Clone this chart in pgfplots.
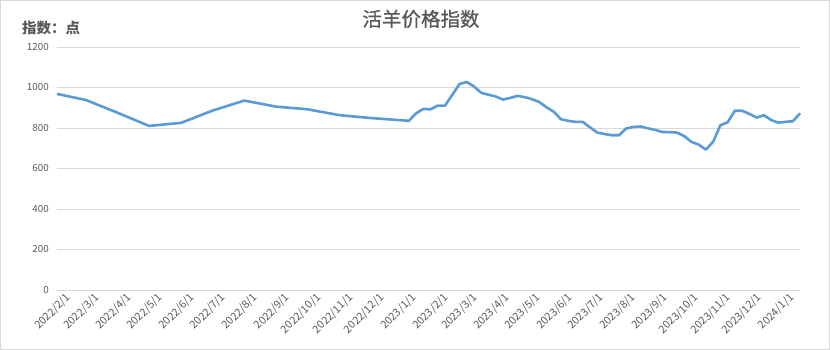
\documentclass[border=0pt]{standalone}
\usepackage{pgfplots}
\pgfplotsset{compat=1.18}
\usepackage{fontspec}
\setmainfont{Noto Sans CJK SC}
\newfontfamily\titlefont{Noto Sans CJK SC}[FakeBold=0.8]
\definecolor{linec}{RGB}{91,155,213}
\definecolor{txt}{RGB}{89,89,89}
\definecolor{grd}{RGB}{217,217,217}
\begin{document}
\begin{tikzpicture}[x=1pt,y=1pt]
\draw[grd, line width=0.8pt] (0.5,0.5) rectangle (829.5,349.5);
\node[text=txt, font=\titlefont\fontsize{19.5}{21}\selectfont] at (421,331) {活羊价格指数};
\node[text=txt, font=\fontsize{14.5}{16}\selectfont\bfseries, anchor=west, inner sep=0pt] at (22,322) {指数：点};
\begin{axis}[
  at={(57pt,60pt)}, anchor=south west,
  scale only axis, width=743pt, height=243pt,
  xmin=0, xmax=718, ymin=0, ymax=1200,
  ytick={0,200,...,1200},
  ymajorgrids,
  grid style={draw=grd, line width=0.8pt},
  axis line style={draw=none},
  tick style={draw=none},
  /pgf/number format/assume math mode=true,
  /pgf/number format/1000 sep={},
  yticklabel style={font=\fontsize{9.8}{10}\selectfont, text=txt, inner sep=0pt, anchor=east, xshift=-8pt},
  xtick={0,28,59,89,120,150,181,212,242,273,303,334,365,393,424,454,485,515,546,577,607,638,668,699},
  xticklabels={2022/2/1,2022/3/1,2022/4/1,2022/5/1,2022/6/1,2022/7/1,2022/8/1,2022/9/1,2022/10/1,2022/11/1,2022/12/1,2023/1/1,2023/2/1,2023/3/1,2023/4/1,2023/5/1,2023/6/1,2023/7/1,2023/8/1,2023/9/1,2023/10/1,2023/11/1,2023/12/1,2024/1/1},
  xticklabel style={font=\fontsize{10.8}{11}\selectfont, text=txt, inner sep=0pt, rotate=45, anchor=north east, xshift=4pt, yshift=-7pt},
  clip=false,
]
\addplot[color=linec, line width=2.6pt, line join=round, mark=none] coordinates {
(0,968) (28,938) (59,874) (89,810) (120,825) (150,885) (181,935) (212,905) (242,892) (273,863) (303,849)
(340,835) (347,872) (354,894) (361,892) (368,910) (375,910) (389,1017) (396,1027) (403,1004) (410,973)
(417,964) (424,955) (431,940) (438,948) (445,958) (452,952) (459,942) (466,928) (473,902) (480,880)
(487,843) (494,835) (501,830) (508,830) (515,803) (522,777) (529,770) (536,764) (543,764) (550,797)
(557,805) (564,807) (571,798) (578,790) (585,780) (592,779) (599,777) (606,760) (613,731) (620,718)
(627,693) (634,732) (641,813) (648,828) (655,885) (662,885) (669,869) (676,851) (683,863) (690,839)
(697,826) (704,830) (711,833) (718,872)
};
\end{axis}
\end{tikzpicture}
\end{document}
